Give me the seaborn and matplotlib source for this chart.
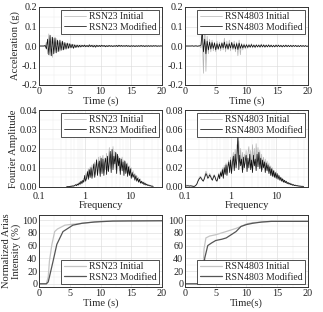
import numpy as np
import pandas as pd
import matplotlib
matplotlib.use("Agg")
import matplotlib.pyplot as plt
import seaborn as sns
from matplotlib.ticker import MultipleLocator, LogLocator, NullFormatter

sns.set_style("whitegrid")
plt.rcParams['font.family'] = ['Liberation Serif', 'DejaVu Serif']

# ---------------- data ----------------
# acceleration time histories (g), sampled every 0.2 s from 0 to 20 s
acc_time = np.round(np.arange(0, 20.0001, 0.2), 1)

acc_23_mod = [0, 0, 0, 0, 0, .003, -.015, .035, -.045, .055,
              -.050, .045, -.040, .042, -.035, .030, -.028, .030, -.022, .025,
              -.020, .018, -.016, .015, -.012, .012, -.010, .009, -.012, .006,
              -.008, .005, -.006, .004, -.005, .004, -.003, .005, -.004, .003,
              -.004, .006, -.003, .004, -.005, .003, -.006, .004, -.003, .003,
              -.003, .004, -.002, .003, -.004, .002, -.003, .003, -.002, .002,
              -.003, .002, -.002, .003, -.003, .004, -.002, .003, -.002, .002,
              -.002, .003, -.002, .002, -.003, .002, -.002, .002, -.003, .002,
              -.002, .002, -.002, .003, -.002, .002, -.003, .002, -.002, .002,
              -.002, .002, -.002, .002, -.001, .002, -.002, .001, -.001, .001, 0]
acc_23_ini = [0, 0, 0, 0, 0, -.004, .020, -.040, .062, -.050,
              .045, -.058, .040, -.035, .038, -.030, .025, -.027, .022, -.020,
              .018, -.017, .014, -.013, .012, -.010, .010, -.009, .008, -.007,
              .006, -.006, .005, -.005, .006, -.004, .004, -.005, .004, -.004,
              .005, -.005, .004, -.004, .006, -.003, .005, -.004, .003, -.003,
              .004, -.003, .003, -.003, .003, -.003, .004, -.002, .003, -.003,
              .002, -.003, .003, -.003, .004, -.002, .003, -.003, .002, -.002,
              .003, -.002, .003, -.003, .002, -.002, .003, -.002, .002, -.003,
              .002, -.003, .002, -.002, .003, -.002, .002, -.002, .003, -.002,
              .002, -.002, .002, -.002, .002, -.001, .002, -.001, .001, -.001, 0]
acc_4803_mod = [0, 0, 0, 0, 0, 0, .001, -.001, 0, .001, -.001, 0, .001,
                .005, .080, -.030, .035, -.040, .025, -.020,
                .020, -.015, .018, -.012, .015, -.020, .012, -.015, .010, -.012,
                .015, -.010, .020, -.012, .010, -.015, .012, -.010, .018, -.012,
                .010, -.015, .012, -.018, .015, -.012, .008, -.010, .006, -.008,
                .006, -.007, .005, -.006, .007, -.005, .004, -.006, .005, -.004,
                .004, -.005, .006, -.004, .005, -.005, .004, -.004, .005, -.004,
                .004, -.004, .003, -.004, .004, -.003, .004, -.003, .003, -.004,
                .003, -.003, .004, -.003, .003, -.003, .003, -.003, .003, -.002,
                .003, -.003, .002, -.003, .003, -.002, .002, -.002, .002, -.002, 0]
acc_4803_ini = [0, 0, 0, 0, 0, 0, .001, -.001, .001, 0, -.001, .001, 0,
                -.010, .060, -.140, .160, -.130, .050, -.040,
                .035, -.030, .030, -.025, .020, -.030, .025, -.020, .020, -.025,
                .020, -.020, .040, -.030, .025, -.020, .030, -.025, .020, -.020,
                .025, -.030, .020, -.050, .030, -.045, .015, -.020, .012, -.015,
                .010, -.012, .010, -.008, .012, -.010, .008, -.010, .008, -.007,
                .008, -.008, .010, -.007, .008, -.008, .007, -.006, .008, -.006,
                .006, -.006, .005, -.006, .007, -.005, .006, -.005, .005, -.006,
                .005, -.005, .006, -.005, .005, -.004, .005, -.005, .004, -.004,
                .004, -.004, .004, -.004, .003, -.004, .003, -.003, .003, -.003, 0]

# Fourier amplitude spectra
freq_23 = np.geomspace(0.4, 32, 96)
four_23_mod = [0, .0002, .0001, .0003, .0002, .0005, .0003, .0006, .0004, .0008,
               .0012, .0007, .0015, .0010, .0022, .0014, .0030, .0018, .0035, .0025,
               .0060, .0030, .0045, .0080, .0040, .0090, .0050, .0100, .0045, .0085,
               .0120, .0050, .0095, .0140, .0060, .0110, .0135, .0055, .0150, .0070,
               .0145, .0060, .0125, .0150, .0065, .0160, .0080, .0130, .0185, .0075,
               .0195, .0090, .0160, .0120, .0180, .0070, .0170, .0110, .0150, .0065,
               .0145, .0085, .0130, .0060, .0135, .0070, .0120, .0055, .0105, .0060,
               .0095, .0045, .0075, .0050, .0065, .0035, .0058, .0030, .0045, .0025,
               .0040, .0020, .0030, .0018, .0025, .0012, .0020, .0010, .0014, .0008,
               .0010, .0006, .0007, .0004, .0005, .0003]
four_23_ini = [0, .0001, .0003, .0002, .0004, .0003, .0007, .0005, .0009, .0006,
               .0010, .0016, .0009, .0020, .0012, .0028, .0016, .0033, .0022, .0045,
               .0035, .0070, .0042, .0065, .0095, .0048, .0105, .0060, .0115, .0055,
               .0090, .0130, .0065, .0145, .0075, .0155, .0070, .0160, .0080, .0140,
               .0165, .0075, .0150, .0090, .0175, .0085, .0150, .0205, .0095, .0170,
               .0120, .0210, .0100, .0185, .0090, .0175, .0130, .0160, .0085, .0150,
               .0100, .0155, .0080, .0140, .0090, .0130, .0075, .0125, .0070, .0110,
               .0075, .0100, .0055, .0085, .0060, .0070, .0045, .0060, .0040, .0050,
               .0030, .0042, .0022, .0030, .0018, .0026, .0014, .0020, .0010, .0015,
               .0008, .0011, .0005, .0007, .0003, .0004]

freq_4803 = np.geomspace(0.1, 40, 131)
four_4803_mod = [.0015, .0012, .0010, .0013, .0011, .0009, .0012, .0010, .0008, .0007,
                 .0006, .0010, .0018, .0030, .0055, .0075, .0090, .0100, .0085, .0070,
                 .0060, .0080, .0110, .0140, .0120, .0090, .0100, .0125, .0110, .0085,
                 .0070, .0095, .0120, .0100, .0070, .0060, .0090, .0130, .0085, .0150,
                 .0110, .0180, .0090, .0200, .0130, .0230, .0120, .0210, .0260, .0150,
                 .0280, .0140, .0250, .0320, .0170, .0340, .0200, .0300, .0560, .0180,
                 .0330, .0220, .0290, .0150, .0310, .0200, .0270, .0330, .0160, .0300,
                 .0200, .0340, .0180, .0280, .0150, .0330, .0220, .0290, .0170, .0340,
                 .0210, .0360, .0190, .0300, .0160, .0280, .0200, .0260, .0150, .0250,
                 .0170, .0230, .0140, .0210, .0120, .0190, .0110, .0170, .0100, .0150,
                 .0090, .0140, .0080, .0120, .0070, .0100, .0060, .0085, .0050, .0070,
                 .0045, .0060, .0035, .0048, .0030, .0040, .0024, .0032, .0018, .0025,
                 .0014, .0020, .0012, .0015, .0009, .0012, .0007, .0010, .0006, .0008, .0005]
four_4803_ini = [.0022, .0018, .0020, .0016, .0019, .0015, .0017, .0013, .0011, .0009,
                 .0008, .0012, .0022, .0035, .0065, .0085, .0105, .0112, .0095, .0080,
                 .0070, .0095, .0130, .0165, .0140, .0105, .0115, .0140, .0125, .0095,
                 .0080, .0105, .0130, .0110, .0080, .0065, .0100, .0145, .0095, .0165,
                 .0120, .0200, .0100, .0225, .0140, .0250, .0135, .0235, .0280, .0165,
                 .0310, .0160, .0280, .0360, .0190, .0390, .0230, .0440, .0350, .0480,
                 .0250, .0400, .0230, .0360, .0180, .0340, .0240, .0380, .0190, .0350,
                 .0420, .0230, .0380, .0200, .0440, .0250, .0400, .0210, .0450, .0270,
                 .0410, .0230, .0380, .0200, .0340, .0180, .0310, .0220, .0290, .0170,
                 .0270, .0160, .0250, .0140, .0220, .0120, .0200, .0110, .0170, .0100,
                 .0160, .0090, .0130, .0080, .0110, .0065, .0095, .0055, .0080, .0045,
                 .0065, .0038, .0052, .0030, .0042, .0024, .0034, .0019, .0026, .0015,
                 .0020, .0012, .0016, .0010, .0013, .0008, .0010, .0006, .0008, .0005, .0006]

# Normalized Arias intensity (%)
arias_23_ini_t = [0, 1.2, 1.5, 1.7, 2.1, 2.55, 3.0, 4.2, 5.0, 6.0, 8.0, 10.0, 15.0, 20.0]
arias_23_ini = [0, 0, 11, 36, 62, 82, 86, 92, 93, 94, 96, 98, 99, 99]
arias_23_mod_t = [0, 1.2, 1.5, 1.7, 2.3, 2.9, 3.9, 5.5, 7.0, 9.0, 12.0, 20.0]
arias_23_mod = [0, 0, 3, 11, 36, 62, 82, 92, 95, 97, 98.5, 99]
arias_4803_ini_t = [0, 2.6, 2.9, 3.1, 3.4, 4.0, 5.0, 6.0, 7.0, 8.3, 9.1, 10.0, 11.0, 12.5, 14.0, 20.0]
arias_4803_ini = [0, 0, 15, 55, 72, 75, 77, 80, 83, 87, 90, 94, 96, 97, 98, 98]
arias_4803_mod_t = [0, 2.6, 2.9, 3.2, 3.7, 4.3, 5.0, 6.0, 6.7, 7.5, 8.3, 9.1, 10.0, 11.0, 12.5, 14.0, 20.0]
arias_4803_mod = [0, 0, 8, 40, 60, 64, 68, 70, 72, 77, 82, 90, 93, 95, 97, 98, 98]

# ---------------- figure ----------------
W, H = 323, 312
fig = plt.figure(figsize=(W / 100, H / 100), dpi=100)


def make_ax(x0, x1, ytop, ybot):
    return fig.add_axes([x0 / W, (H - ybot) / H, (x1 - x0) / W, (ybot - ytop) / H])


LX0, LX1, RX0, RX1 = 39, 162, 185, 308
axes = {
    'tl': make_ax(LX0, LX1, 7, 85), 'tr': make_ax(RX0, RX1, 7, 85),
    'ml': make_ax(LX0, LX1, 110, 187), 'mr': make_ax(RX0, RX1, 110, 187),
    'bl': make_ax(LX0, LX1, 215, 287), 'br': make_ax(RX0, RX1, 215, 287),
}

C_INI = '#b4b4b4'
C_MOD = '#111111'
C_INI_A = '#c4c4c4'
C_MOD_A = '#555555'
FS = 7.3
AFS = 7.6
LFS = 7.0


def draw(ax, x, y, color, label, lw=0.6):
    sns.lineplot(x=np.asarray(x), y=np.asarray(y), ax=ax, color=color, lw=lw,
                 label=label, sort=False, errorbar=None, estimator=None)


def style(ax, loc, xpad=1.5):
    ax.grid(True, which='major', color='#dcdcdc', lw=0.45)
    ax.grid(True, which='minor', color='#ececec', lw=0.35)
    for s in ax.spines.values():
        s.set_color('#333333')
        s.set_linewidth(0.7)
    ax.tick_params(axis='both', which='both', direction='in', labelsize=FS,
                   length=2, width=0.5, pad=1.2, colors='#222222')
    ax.tick_params(axis='x', pad=xpad)
    ax.tick_params(which='minor', length=1)
    leg = ax.legend(loc=loc, fontsize=LFS, frameon=True, fancybox=False,
                    edgecolor='#333333', handlelength=2.3, handletextpad=0.3,
                    borderpad=0.25, labelspacing=0.15, borderaxespad=0.3)
    leg.get_frame().set_linewidth(0.6)
    leg.get_frame().set_alpha(1)


# top row: acceleration
for key, ini, mod, name in [('tl', acc_23_ini, acc_23_mod, 'RSN23'),
                            ('tr', acc_4803_ini, acc_4803_mod, 'RSN4803')]:
    ax = axes[key]
    draw(ax, acc_time, ini, C_INI, f'{name} Initial', lw=0.5)
    draw(ax, acc_time, mod, C_MOD, f'{name} Modified', lw=0.55)
    ax.set_xlim(0, 20)
    ax.set_ylim(-0.2, 0.2)
    ax.xaxis.set_major_locator(MultipleLocator(5))
    ax.xaxis.set_minor_locator(MultipleLocator(2.5))
    ax.yaxis.set_major_locator(MultipleLocator(0.1))
    ax.yaxis.set_minor_locator(MultipleLocator(0.05))
    ax.set_yticks([-0.2, -0.1, 0.0, 0.1, 0.2])
    ax.set_yticklabels(['-0.2', '-0.1', '0.0', '0.1', '0.2'])
    ax.set_xlabel('Time (s)', fontsize=AFS, labelpad=0.3)
    ax.set_ylabel('Acceleration (g)' if key == 'tl' else '', fontsize=AFS, labelpad=1)
    style(ax, 'upper right')

# middle row: Fourier amplitude
for key, f, ini, mod, name, ymax, ystep in [
        ('ml', freq_23, four_23_ini, four_23_mod, 'RSN23', 0.04, 0.01),
        ('mr', freq_4803, four_4803_ini, four_4803_mod, 'RSN4803', 0.08, 0.02)]:
    ax = axes[key]
    draw(ax, f, ini, C_INI, f'{name} Initial', lw=0.5)
    draw(ax, f, mod, C_MOD, f'{name} Modified', lw=0.55)
    ax.set_xscale('log')
    ax.set_xlim(0.1, 50)
    ax.set_ylim(0, ymax)
    ax.set_xticks([0.1, 1, 10])
    ax.set_xticklabels(['0.1', '1', '10'])
    ax.xaxis.set_minor_locator(LogLocator(base=10, subs=np.arange(2, 10)))
    ax.xaxis.set_minor_formatter(NullFormatter())
    ax.yaxis.set_major_locator(MultipleLocator(ystep))
    ax.yaxis.set_minor_locator(MultipleLocator(ystep / 2))
    ax.yaxis.set_major_formatter(matplotlib.ticker.FormatStrFormatter('%.2f'))
    ax.set_xlabel('Frequency', fontsize=AFS, labelpad=0.3)
    ax.set_ylabel('Fourier Amplitude' if key == 'ml' else '', fontsize=AFS, labelpad=1)
    style(ax, 'upper right', xpad=3.5)

# bottom row: Arias intensity
for key, ti, ini, tm, mod, name, xl in [
        ('bl', arias_23_ini_t, arias_23_ini, arias_23_mod_t, arias_23_mod, 'RSN23', 'Time (s)'),
        ('br', arias_4803_ini_t, arias_4803_ini, arias_4803_mod_t, arias_4803_mod, 'RSN4803', 'Time(s)')]:
    ax = axes[key]
    draw(ax, ti, ini, C_INI_A, f'{name} Initial', lw=0.9)
    draw(ax, tm, mod, C_MOD_A, f'{name} Modified', lw=0.9)
    ax.set_xlim(0, 20)
    ax.set_ylim(-5, 108)
    ax.xaxis.set_major_locator(MultipleLocator(5))
    ax.xaxis.set_minor_locator(MultipleLocator(2.5))
    ax.set_yticks([0, 20, 40, 60, 80, 100])
    ax.yaxis.set_minor_locator(MultipleLocator(10))
    ax.set_xlabel(xl, fontsize=AFS, labelpad=0.3)
    ax.set_ylabel('Normalized Arias\nIntensity (%)' if key == 'bl' else '',
                  fontsize=AFS, labelpad=1, linespacing=1.0)
    style(ax, 'lower right')

fig.savefig('out.png', dpi=100)
